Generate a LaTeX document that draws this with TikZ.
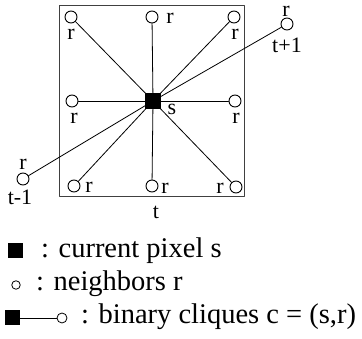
\documentclass[tikz,border=0pt]{standalone}
\usepackage{fontspec}
\setmainfont{Liberation Serif}
\tikzset{
  nb/.style={circle, draw, line width=0.9pt, minimum size=12pt, inner sep=0pt},
  px/.style={fill, minimum size=15pt, inner sep=0pt},
  lab/.style={font=\fontsize{22}{24}\selectfont, inner sep=0pt},
  leg/.style={font=\fontsize{28.5}{30}\selectfont, inner sep=0pt, anchor=base west},
}
\begin{document}
\begin{tikzpicture}[x=1pt, y=-1pt, line join=round, line cap=round]
	\useasboundingbox (0,0) rectangle (362,339);
	
	% frame t
	\draw[line width=0.8pt, black!75] (59,5) rectangle (244,196);
	
	% current pixel and neighbors
	\node[px, minimum size=16pt] (s) at (153,101) {};
	\foreach \n/\x/\y in {tl/71/17, tm/152/17, tr/234/17, tp/287/24, ml/72/101, mr/235/101, tm1/23/179, bl/74/186, bm/152/186, br/236/187}
		\node[nb] (\n) at (\x,\y) {};
	
	\foreach \n in {tl, tm, tr, tp, ml, mr, tm1, bl, bm, br}
		\draw[line width=0.8pt] (s.center) -- (\n);
	
	\node[lab] (rtl) at (71,34) {r};
	\node[lab] (rtm) at (170,18) {r};
	\node[lab] (rtr) at (235,34) {r};
	\node[lab] (rtp) at (286,11) {r};
	\node[lab] (ttp) at (287,45) {t+1};
	\node[lab] (rml) at (74,118) {r};
	\node[lab] (ls) at (172,109) {s};
	\node[lab] (rmr) at (236,118) {r};
	\node[lab] (rtm1) at (23,164) {r};
	\node[lab] (ttm1) at (20,197) {t-1};
	\node[lab] (rbl) at (89,187) {r};
	\node[lab] (rbm) at (165,188) {r};
	\node[lab] (rbr) at (220,188) {r};
	\node[lab] (tt) at (156,212) {t};
	
	% legend
	\node[px] (ks) at (15.5,251) {};
	\node[leg] (kst) at (41,258) {: current pixel s};
	\node[circle, draw, line width=0.8pt, minimum size=8.5pt, inner sep=0pt] (kr) at (16,285) {};
	\node[leg] (krt) at (36,291) {: neighbors r};
	\node[px] (kcs) at (12.5,318) {};
	\node[circle, draw, line width=0.8pt, minimum size=10pt, inner sep=0pt] (kcr) at (62,318) {};
	\draw[line width=0.8pt] (kcs) -- (kcr);
	\node[leg] (kct) at (81,324) {: binary cliques c = (s,r)};
\end{tikzpicture}
\end{document}
